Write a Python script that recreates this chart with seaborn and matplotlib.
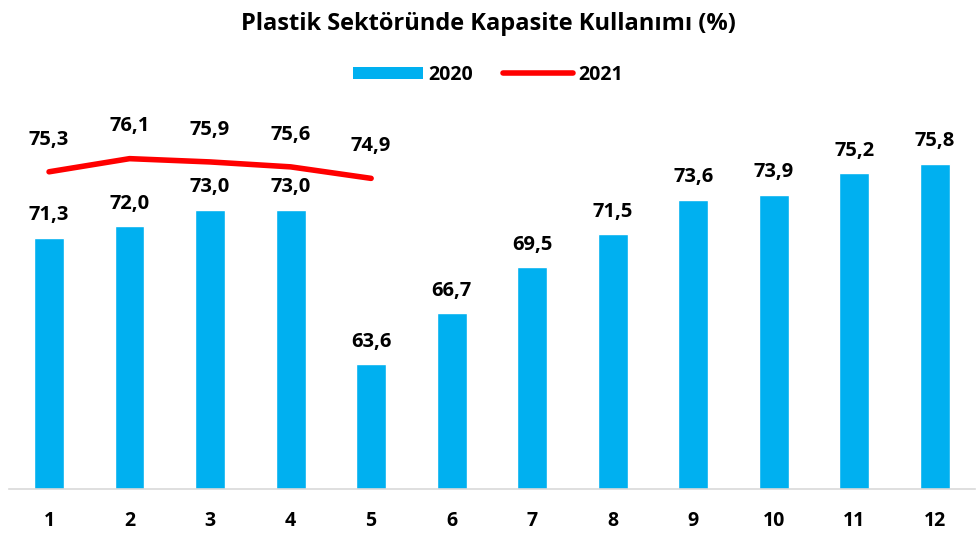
import matplotlib
matplotlib.use("Agg")
import matplotlib.pyplot as plt
import seaborn as sns
import pandas as pd
from matplotlib.patches import Patch
from matplotlib.lines import Line2D

# Veriler
months = ["1", "2", "3", "4", "5", "6", "7", "8", "9", "10", "11", "12"]
values_2020 = [71.3, 72.0, 73.0, 73.0, 63.6, 66.7, 69.5, 71.5, 73.6, 73.9, 75.2, 75.8]
months_2021 = [1, 2, 3, 4, 5]
values_2021 = [75.3, 76.1, 75.9, 75.6, 74.9]

blue = "#00B0F0"
red = "#FF0000"

sns.set_style("white")
plt.rcParams["font.family"] = ["Open Sans", "DejaVu Sans"]
plt.rcParams["text.color"] = "black"
plt.rcParams["xtick.color"] = "black"

fig = plt.figure(figsize=(9.76, 5.33), dpi=100)
ax = fig.add_axes([0.009, 0.0826, 0.99, 0.74])

df20 = pd.DataFrame({"ay": months, "deger": values_2020})
sns.barplot(data=df20, x="ay", y="deger", color=blue, width=0.37,
            saturation=1, ax=ax)

df21 = pd.DataFrame({"pos": [m - 1 for m in months_2021], "deger": values_2021})
sns.lineplot(data=df21, x="pos", y="deger", color=red, linewidth=4,
             solid_capstyle="round", ax=ax)

# Etiketler
for i, v in enumerate(values_2020):
    ax.annotate(f"{v:.1f}".replace(".", ","), (i, v), xytext=(0, 9),
                textcoords="offset points", ha="center", va="bottom",
                fontsize=14.5, fontweight="bold")
for m, v in zip(months_2021, values_2021):
    ax.annotate(f"{v:.1f}".replace(".", ","), (m - 1, v), xytext=(0, 16),
                textcoords="offset points", ha="center", va="bottom",
                fontsize=14.5, fontweight="bold")

ax.set_ylim(56, 80)
ax.set_xlim(-0.5, 11.5)
ax.set_xlabel("")
ax.set_ylabel("")
ax.set_yticks([])
ax.tick_params(axis="x", length=0, pad=16, labelsize=14)
for lbl in ax.get_xticklabels():
    lbl.set_fontweight("bold")
for s in ["top", "left", "right"]:
    ax.spines[s].set_visible(False)
ax.spines["bottom"].set_color("#D9D9D9")
ax.spines["bottom"].set_linewidth(1.2)

fig.suptitle("Plastik Sektöründe Kapasite Kullanımı (%)", y=0.978,
             fontsize=17, fontweight="bold")

handles = [Patch(facecolor=blue, edgecolor="none", label="2020"),
           Line2D([0], [0], color=red, linewidth=4, solid_capstyle="round", label="2021")]
fig.legend(handles=handles, loc="center", bbox_to_anchor=(0.5, 0.86), ncol=2,
           frameon=False, handlelength=3.6, handleheight=0.55, columnspacing=1.5,
           handletextpad=0.3, prop={"weight": "bold", "size": 14})

fig.savefig("out.png", dpi=100)
